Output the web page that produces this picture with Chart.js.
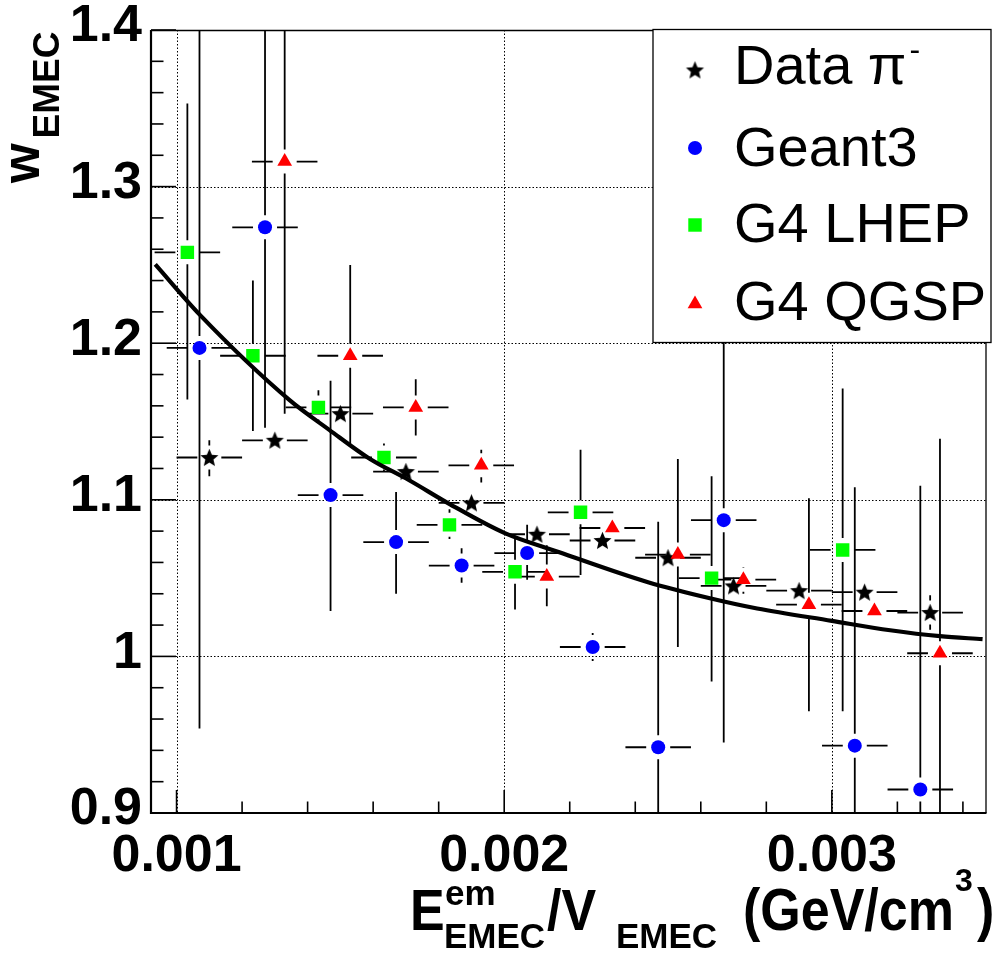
<!DOCTYPE html>
<html>
<head>
<meta charset="utf-8">
<script src="https://cdn.jsdelivr.net/npm/chart.js@4.4.0/dist/chart.umd.min.js"></script>
<style>
  html, body { margin: 0; padding: 0; background: #fff; }
  #wrap { width: 996px; height: 953px; }
</style>
</head>
<body>
<div id="wrap"><canvas id="chart" width="996" height="953"></canvas></div>
<script>
// axis ranges and tick labels
const xMin = 0.000922, xMax = 0.003472;
const yMin = 0.9, yMax = 1.4;
const xTickValues = [0.001, 0.002, 0.003];
const xTickLabels = ['0.001', '0.002', '0.003'];
const yTickValues = [0.9, 1.0, 1.1, 1.2, 1.3, 1.4];
const yTickLabels = ['0.9', '1', '1.1', '1.2', '1.3', '1.4'];

// half width of the horizontal error bars
const binHalfWidth = 0.0001;

// Data pi-
const dataX  = [0.0011, 0.0013, 0.0015, 0.0017, 0.0019, 0.0021, 0.0023, 0.0025, 0.0027, 0.0029, 0.0031, 0.0033];
const dataY  = [1.127, 1.138, 1.155, 1.118, 1.098, 1.078, 1.074, 1.063, 1.045, 1.042, 1.041, 1.028];
const dataLo = [1.115, 1.131, 1.151, 1.114, 1.094, 1.074, 1.070, 1.059, 1.041, 1.038, 1.035, 1.017];
const dataHi = [1.138, 1.144, 1.159, 1.122, 1.102, 1.082, 1.078, 1.067, 1.049, 1.046, 1.047, 1.039];

// Geant3
const g3X  = [0.00107, 0.00127, 0.00147, 0.00167, 0.00187, 0.00207, 0.00227, 0.00247, 0.00267, 0.00307, 0.00327];
const g3Y  = [1.197, 1.274, 1.103, 1.073, 1.058, 1.066, 1.006, 0.942, 1.087, 0.943, 0.915];
const g3Lo = [0.954, 1.146, 1.029, 1.040, 1.047, 1.049, 0.997, 0.850, 0.945, 0.850, 0.850];
const g3Hi = [1.450, 1.450, 1.176, 1.105, 1.069, 1.084, 1.015, 1.086, 1.230, 1.108, 1.109];

// G4 LHEP
const lhepX  = [0.001033, 0.001233, 0.001433, 0.001633, 0.001833, 0.002033, 0.002233, 0.002633, 0.003033];
const lhepY  = [1.258, 1.192, 1.159, 1.127, 1.084, 1.054, 1.092, 1.050, 1.068];
const lhepLo = [1.164, 1.144, 1.149, 1.118, 1.075, 1.030, 1.052, 0.984, 0.965];
const lhepHi = [1.353, 1.240, 1.170, 1.136, 1.094, 1.077, 1.132, 1.115, 1.171];

// G4 QGSP
const qgspX  = [0.00133, 0.00153, 0.00173, 0.00193, 0.00213, 0.00233, 0.00253, 0.00273, 0.00293, 0.00313, 0.00333];
const qgspY  = [1.316, 1.192, 1.159, 1.122, 1.051, 1.082, 1.065, 1.049, 1.033, 1.029, 1.002];
const qgspLo = [1.155, 1.135, 1.141, 1.111, 1.032, 1.077, 1.006, 1.040, 0.965, 1.022, 0.850];
const qgspHi = [1.450, 1.250, 1.177, 1.132, 1.071, 1.087, 1.126, 1.057, 1.101, 1.036, 1.139];

// fitted curve
const fitX = [0.000935, 0.001072, 0.001345, 0.001467, 0.001588, 0.00171, 0.001831, 0.002, 0.002166, 0.002439, 0.002631, 0.002772, 0.003, 0.003178, 0.00333, 0.00346];
const fitY = [1.2503, 1.2179, 1.1636, 1.1445, 1.1264, 1.1125, 1.0976, 1.0789, 1.0667, 1.0474, 1.037, 1.0306, 1.0227, 1.0167, 1.0129, 1.011];

const FONT = "'Liberation Sans', Arial, Helvetica, sans-serif";

function makeStar(r) {
    const c = document.createElement('canvas');
    const s = Math.ceil(r * 2 + 2);
    c.width = s; c.height = s;
    const g = c.getContext('2d');
    g.translate(s / 2, s / 2 + 0.8);
    g.beginPath();
    for (let k = 0; k < 10; k++) {
        const rr = k % 2 ? r * 0.45 : r;
        const a = -Math.PI / 2 + k * Math.PI / 5;
        g.lineTo(rr * Math.cos(a), rr * Math.sin(a));
    }
    g.closePath();
    g.fillStyle = '#000';
    g.fill();
    return c;
}
const starImg = makeStar(9.5);

const series = [
    { label: 'Data \u03c0', sup: '-', x: dataX, y: dataY, lo: dataLo, hi: dataHi, color: '#000000', style: starImg, radius: 9.5 },
    { label: 'Geant3', x: g3X, y: g3Y, lo: g3Lo, hi: g3Hi, color: '#0000ff', style: 'circle', radius: 7 },
    { label: 'G4 LHEP', x: lhepX, y: lhepY, lo: lhepLo, hi: lhepHi, color: '#00ff00', style: 'rect', radius: 9.5 },
    { label: 'G4 QGSP', x: qgspX, y: qgspY, lo: qgspLo, hi: qgspHi, color: '#ff0000', style: 'triangle', radius: 8.5 }
];

function line(ctx, x1, y1, x2, y2) {
    ctx.beginPath();
    ctx.moveTo(x1, y1);
    ctx.lineTo(x2, y2);
    ctx.stroke();
}

// grid, error bars, frame, ticks, legend and axis titles
const rootStyle = {
    id: 'rootStyle',
    beforeDatasetsDraw(chart) {
        const { ctx, chartArea: a, scales: { x, y } } = chart;
        ctx.save();
        ctx.strokeStyle = '#000';
        ctx.lineWidth = 1;
        ctx.setLineDash([1.5, 2]);
        xTickValues.forEach(v => {
            const p = Math.round(x.getPixelForValue(v)) + 0.5;
            line(ctx, p, a.top, p, a.bottom);
        });
        yTickValues.forEach(v => {
            if (v <= yMin || v >= yMax) return;
            const p = Math.round(y.getPixelForValue(v)) + 0.5;
            line(ctx, a.left, p, a.right, p);
        });
        ctx.setLineDash([]);

        // error bars, with a gap around each marker
        ctx.beginPath();
        ctx.rect(a.left, a.top, a.right - a.left, a.bottom - a.top);
        ctx.clip();
        ctx.strokeStyle = '#000';
        ctx.lineWidth = 1.8;
        const gap = 12;
        series.forEach(s => {
            s.x.forEach((xv, i) => {
                const px = x.getPixelForValue(xv);
                const py = y.getPixelForValue(s.y[i]);
                const xl = x.getPixelForValue(xv - binHalfWidth);
                const xr = x.getPixelForValue(xv + binHalfWidth);
                const yt = y.getPixelForValue(s.hi[i]);
                const yb = y.getPixelForValue(s.lo[i]);
                if (px - xl > gap) line(ctx, xl, py, px - gap, py);
                if (xr - px > gap) line(ctx, px + gap, py, xr, py);
                if (py - yt > gap) line(ctx, px, yt, px, py - gap);
                if (yb - py > gap) line(ctx, px, py + gap, px, yb);
            });
        });
        ctx.restore();
    },
    afterDatasetsDraw(chart) {
        const { ctx, chartArea: a, scales: { x, y } } = chart;
        ctx.save();
        ctx.strokeStyle = '#000';
        // inward ticks
        ctx.lineWidth = 1.6;
        for (let k = 0; k <= 13; k++) {
            const v = 0.001 + k * 0.0002;
            if (v > xMax) break;
            const p = x.getPixelForValue(v);
            const len = k % 5 === 0 ? 23 : 11.5;
            line(ctx, p, a.bottom, p, a.bottom - len);
        }
        for (let k = 0; k <= 25; k++) {
            const v = yMin + k * 0.02;
            const p = y.getPixelForValue(v);
            const len = k % 5 === 0 ? 25 : 12.5;
            line(ctx, a.left, p, a.left + len, p);
        }
        // frame
        ctx.lineWidth = 1.3;
        line(ctx, a.left, a.top + 0.5, a.right, a.top + 0.5);
        line(ctx, a.right - 0.5, a.top, a.right - 0.5, a.bottom);
        ctx.lineWidth = 2.2;
        line(ctx, a.left, a.top, a.left, a.bottom + 1);
        line(ctx, a.left - 1, a.bottom, a.right, a.bottom);
        ctx.restore();
    },
    afterDraw(chart) {
        const ctx = chart.ctx;
        ctx.save();
        // legend box
        ctx.fillStyle = '#fff';
        ctx.fillRect(653, 29.5, 338, 313);
        ctx.strokeStyle = '#000';
        ctx.lineWidth = 1.3;
        ctx.strokeRect(653, 29.5, 338, 313);
        const rowMarkY = [70, 148, 225, 304];
        const rowTextY = [84, 166, 242, 320];
        series.forEach((s, i) => {
            ctx.fillStyle = s.color;
            Chart.helpers.drawPoint(ctx, { pointStyle: s.style, radius: s.radius, rotation: 0, borderWidth: 0 }, 695, rowMarkY[i]);
            ctx.fillStyle = '#000';
            ctx.font = '56px ' + FONT;
            ctx.textAlign = 'left';
            ctx.textBaseline = 'alphabetic';
            ctx.fillText(s.label, 734, rowTextY[i]);
            if (s.sup) {
                const w = ctx.measureText(s.label).width;
                ctx.font = '32px ' + FONT;
                ctx.fillText(s.sup, 734 + w + 3, 60);
            }
        });

        // y title
        ctx.fillStyle = '#000';
        ctx.save();
        ctx.translate(38.5, 183);
        ctx.rotate(-Math.PI / 2);
        ctx.textAlign = 'left';
        ctx.textBaseline = 'alphabetic';
        ctx.font = 'bold 51px ' + FONT;
        ctx.fillText('w', 0, 0);
        ctx.font = 'bold 37px ' + FONT;
        ctx.fillText('EMEC', 44.5, 20);
        ctx.restore();

        // x title (main parts are a little taller than the tick labels)
        ctx.textAlign = 'left';
        ctx.textBaseline = 'alphabetic';
        const big = 'bold 52px ' + FONT, small = 'bold 35px ' + FONT;
        const pieces = [
            ['E', big, 410, 930, 1.12],
            ['em', small, 445, 905, 1],
            ['EMEC', small, 444, 948, 1],
            ['/V', big, 547, 930, 1.12],
            ['EMEC', small, 616, 948, 1],
            ['(GeV/cm', big, 743, 930, 1.15],
            ['3', 'bold 32px ' + FONT, 955, 891, 1],
            [')', big, 977, 930, 1.15]
        ];
        pieces.forEach(([t, f, px, py, sy]) => {
            ctx.save();
            ctx.translate(px, py);
            ctx.scale(1, sy);
            ctx.font = f;
            ctx.fillText(t, 0, 0);
            ctx.restore();
        });
        ctx.restore();
    }
};

const datasets = series.map((s, i) => ({
    label: s.label,
    data: s.x.map((xv, k) => ({ x: xv, y: s.y[k] })),
    pointStyle: s.style,
    pointRadius: s.radius,
    pointBackgroundColor: s.color,
    pointBorderWidth: 0,
    showLine: false,
    order: 10 - i
}));
datasets.push({
    label: 'fit',
    data: fitX.map((xv, k) => ({ x: xv, y: fitY[k] })),
    showLine: true,
    borderColor: '#000',
    borderWidth: 4.2,
    pointRadius: 0,
    cubicInterpolationMode: 'monotone',
    order: 0
});

const ctx = document.getElementById('chart').getContext('2d');
const chart = new Chart(ctx, {
    type: 'scatter',
    data: { datasets: datasets },
    options: {
        responsive: false,
        animation: false,
        devicePixelRatio: 1,
        events: [],
        layout: { padding: { top: 30, right: 6, left: 0, bottom: 0 } },
        plugins: {
            legend: { display: false },
            tooltip: { enabled: false }
        },
        scales: {
            x: {
                type: 'linear',
                min: xMin,
                max: xMax,
                afterBuildTicks: s => { s.ticks = xTickValues.map(v => ({ value: v })); },
                afterFit: s => { s.height = 140; },
                grid: { display: false, drawTicks: false },
                border: { display: false },
                ticks: {
                    autoSkip: false,
                    maxRotation: 0,
                    padding: 18,
                    color: '#000',
                    font: { family: FONT, size: 52, weight: 'bold', lineHeight: 1 },
                    callback: (v, i) => xTickLabels[i]
                }
            },
            y: {
                type: 'linear',
                min: yMin,
                max: yMax,
                afterBuildTicks: s => { s.ticks = yTickValues.map(v => ({ value: v })); },
                afterFit: s => { s.width = 151; },
                grid: { display: false, drawTicks: false },
                border: { display: false },
                ticks: {
                    autoSkip: false,
                    padding: 9,
                    labelOffset: -3,
                    color: '#000',
                    font: { family: FONT, size: 52, weight: 'bold', lineHeight: 0.75 },
                    callback: (v, i) => yTickLabels[i]
                }
            }
        }
    },
    plugins: [rootStyle]
});
</script>
</body>
</html>
